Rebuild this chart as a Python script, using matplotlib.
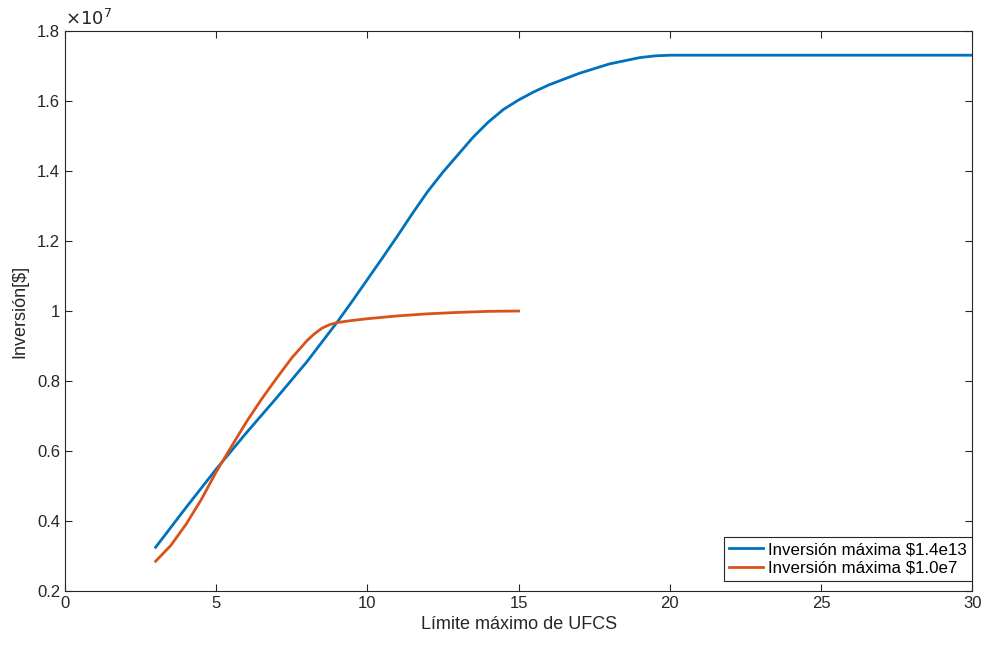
import numpy as np
import matplotlib.pyplot as plt
from matplotlib.ticker import FuncFormatter

# data (values in units of 1e7)
x_blue = [3, 4, 5, 6, 7, 8, 9, 9.5, 10, 10.5, 11, 11.5, 12, 12.5, 13, 13.5, 14, 14.5,
          15, 15.5, 16, 17, 18, 19, 19.5, 20, 22, 25, 30]
y_blue = [0.325, 0.438, 0.548, 0.652, 0.752, 0.855, 0.968, 1.028, 1.09, 1.152, 1.215,
          1.28, 1.342, 1.397, 1.447, 1.497, 1.54, 1.576, 1.603, 1.626, 1.646, 1.679,
          1.706, 1.724, 1.729, 1.731, 1.731, 1.731, 1.731]

x_orange = [3, 3.5, 4, 4.5, 5, 5.5, 6, 6.5, 7, 7.5, 8, 8.25, 8.5, 8.75, 9, 9.5, 10,
            11, 12, 13, 14, 15]
y_orange = [0.285, 0.33, 0.39, 0.46, 0.54, 0.612, 0.683, 0.748, 0.808, 0.866, 0.915,
            0.935, 0.951, 0.961, 0.967, 0.973, 0.978, 0.986, 0.992, 0.996, 0.999, 1.0]

labels = ['Inversión máxima $1.4e13', 'Inversión máxima $1.0e7']
scale = 1e7

plt.rcParams['font.family'] = ['Liberation Sans', 'DejaVu Sans']

fig = plt.figure(figsize=(9.84, 6.47), dpi=100)
ax = fig.add_axes([0.066, 0.0866, 0.922, 0.8654])

ax.plot(x_blue, np.array(y_blue) * scale, color='#0072BD', lw=2, label=labels[0])
ax.plot(x_orange, np.array(y_orange) * scale, color='#D95319', lw=2, label=labels[1])

ax.set_xlim(0, 30)
ax.set_ylim(0.2e7, 1.8e7)
ax.set_xticks(np.arange(0, 31, 5))
ax.set_yticks(np.arange(0.2, 1.81, 0.2) * scale)
ax.yaxis.set_major_formatter(FuncFormatter(lambda v, p: '%g' % round(v / scale, 2)))

ax.tick_params(direction='in', top=True, right=True, labelsize=12, colors='#262626', length=5)
for s in ax.spines.values():
    s.set_color('#262626')
    s.set_linewidth(0.8)

ax.text(0, 1.003, r'$\times10^{7}$', transform=ax.transAxes, fontsize=13,
        ha='left', va='bottom', color='#262626')

ax.set_xlabel('Límite máximo de UFCS', fontsize=13, color='#262626', labelpad=4)
ax.set_ylabel('Inversión[$]', fontsize=13, color='#262626', labelpad=6)

leg = ax.legend(loc='lower right', bbox_to_anchor=(1.0, 0.018), fontsize=12.2,
                frameon=True, fancybox=False, framealpha=1, edgecolor='#262626',
                borderaxespad=0, handlelength=2.0, handletextpad=0.3,
                borderpad=0.3, labelspacing=0.2)
leg.get_frame().set_linewidth(0.8)

fig.savefig('out.png', dpi=100)
